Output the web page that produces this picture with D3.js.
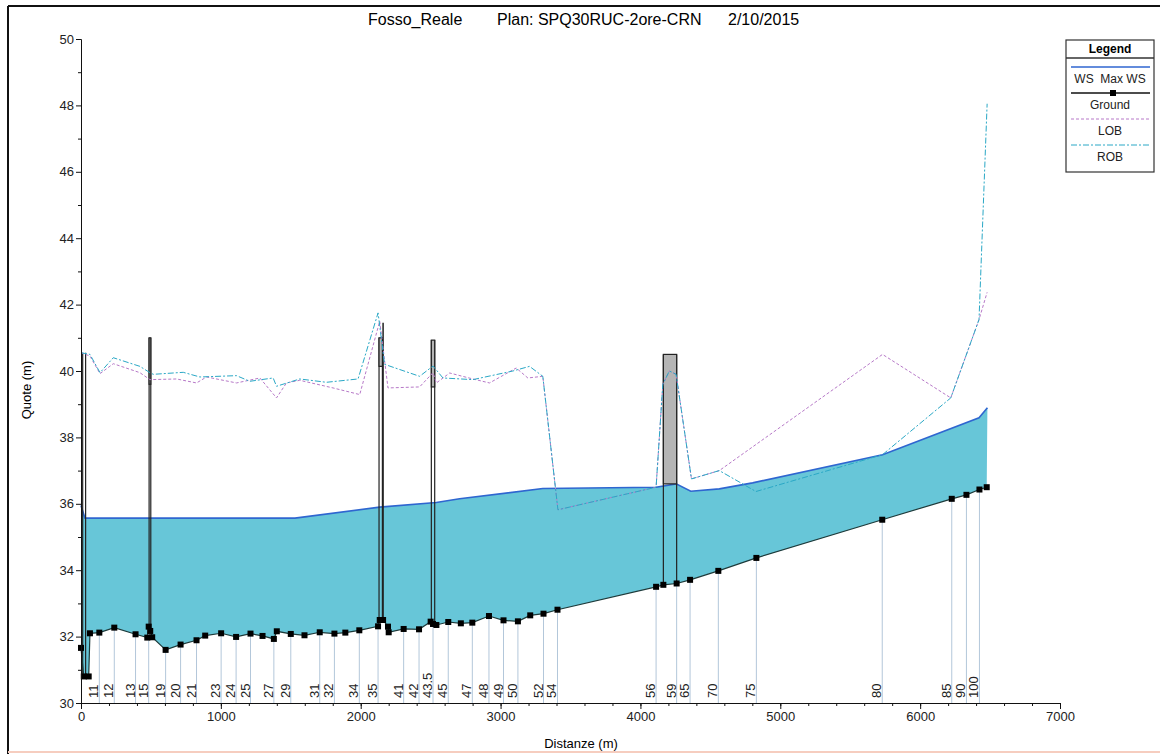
<!DOCTYPE html>
<html>
<head>
<meta charset="utf-8">
<script src="https://cdn.jsdelivr.net/npm/d3@7"></script>
<style>
body { margin: 0; background: #fff; }
</style>
</head>
<body>
<script>
// profile data (distance m, elevation m)
var groundDist = [0, 20, 55, 64, 131, 238, 390, 474, 484, 495, 509, 605, 712, 826, 888, 1002, 1109, 1212, 1298, 1379, 1400, 1500, 1598, 1707, 1812, 1890, 1990, 2124, 2136, 2160, 2195, 2200, 2307, 2417, 2500, 2517, 2541, 2626, 2716, 2798, 2917, 3021, 3124, 3212, 3307, 3407, 4112, 4164, 4259, 4355, 4557, 4829, 5729, 6226, 6331, 6424, 6476];
var groundElev = [31.66, 30.8, 30.8, 32.1, 32.12, 32.27, 32.07, 31.97, 32.3, 32.17, 31.98, 31.6, 31.76, 31.89, 32.03, 32.1, 31.99, 32.09, 32.02, 31.93, 32.16, 32.08, 32.04, 32.13, 32.09, 32.12, 32.19, 32.31, 32.5, 32.5, 32.3, 32.13, 32.23, 32.22, 32.45, 32.38, 32.35, 32.44, 32.4, 32.42, 32.62, 32.49, 32.46, 32.64, 32.69, 32.81, 33.5, 33.56, 33.6, 33.71, 33.98, 34.37, 35.52, 36.15, 36.27, 36.43, 36.5];

var wsDist = [0, 28, 1530, 2136, 2540, 2707, 3302, 4112, 4255, 4360, 4564, 4802, 5731, 6421, 6481];
var wsElev = [35.95, 35.57, 35.57, 35.9, 36.04, 36.15, 36.46, 36.5, 36.6, 36.38, 36.45, 36.63, 37.48, 38.59, 38.89];

var lobDist = [0, 64, 136, 231, 421, 493, 683, 826, 898, 1112, 1279, 1398, 1469, 1564, 1802, 1993, 2136, 2195, 2421, 2517, 2541, 2636, 2802, 2921, 3112, 3195, 3302, 3410, 4112, 4160, 4207, 4255, 4365, 4564, 5731, 6219, 6421, 6479];
var lobElev = [40.55, 40.45, 39.92, 40.22, 39.95, 39.74, 39.76, 39.64, 39.82, 39.64, 39.79, 39.19, 39.64, 39.72, 39.49, 39.29, 41.5, 39.49, 39.52, 39.95, 39.64, 39.94, 39.76, 39.64, 40.09, 39.79, 39.84, 35.82, 36.5, 39.6, 40.0, 39.9, 36.75, 37.0, 40.5, 39.19, 41.55, 42.37];

var robDist = [0, 64, 136, 231, 421, 493, 517, 731, 850, 1112, 1207, 1374, 1398, 1564, 1755, 1981, 2124, 2171, 2421, 2517, 2588, 2802, 3088, 3207, 3302, 3410, 4112, 4160, 4207, 4255, 4365, 4564, 4826, 5731, 6219, 6421, 6479];
var robElev = [40.55, 40.5, 39.95, 40.4, 40.14, 39.95, 39.9, 39.96, 39.82, 39.86, 39.69, 39.79, 39.54, 39.76, 39.66, 39.76, 41.75, 40.2, 39.84, 40.15, 39.79, 39.74, 40.0, 40.14, 39.84, 35.82, 36.5, 39.6, 40.0, 39.9, 36.75, 37.0, 36.37, 37.48, 39.19, 41.55, 48.05];

// river stations
var stationLabels = ["11", "12", "13", "15", "19", "20", "21", "23", "24", "25", "27", "29", "31", "32", "34", "35", "41", "42", "43.5", "45", "47", "48", "49", "50", "52", "54", "56", "59", "65", "70", "75", "80", "85", "90", "100"];
var stationDist = [131, 238, 390, 484, 605, 712, 826, 1002, 1109, 1212, 1379, 1500, 1707, 1812, 1990, 2124, 2307, 2417, 2517, 2626, 2798, 2917, 3021, 3124, 3307, 3407, 4112, 4259, 4355, 4557, 4829, 5729, 6226, 6331, 6424];
var stationElev = [32.12, 32.27, 32.07, 32.3, 31.6, 31.76, 31.89, 32.1, 31.99, 32.09, 31.93, 32.08, 32.13, 32.09, 32.19, 32.31, 32.23, 32.22, 32.38, 32.44, 32.42, 32.62, 32.49, 32.46, 32.69, 32.81, 33.5, 33.6, 33.71, 33.98, 34.37, 35.52, 36.15, 36.27, 36.43];

// bridges / culvert
var structLeft = [12, 487, 2131, 2505, 4164];
var structRight = [33, 499, 2155, 2529, 4259];
var structHigh = [40.55, 41.0, 41.0, 40.93, 40.5];
var structLow = [40.55, 39.6, 40.14, 39.52, 36.6];
var structBed = [30.8, 32.2, 32.5, 32.4, 33.58];
var pierDist = [2160];
var pierTop = [41.45];
var pierBed = [32.5];

var xTicks = [0, 1000, 2000, 3000, 4000, 5000, 6000, 7000];
var yTicks = [30, 32, 34, 36, 38, 40, 42, 44, 46, 48, 50];

var legendItems = ["WS  Max WS", "Ground", "LOB", "ROB"];

var width = 1160, height = 754;
var svg = d3.select("body").append("svg")
    .attr("width", width)
    .attr("height", height)
    .style("font-family", "Arial, 'Liberation Sans', sans-serif")

var x = d3.scaleLinear().domain([0, 7000]).range([81, 1060]);
var y = d3.scaleLinear().domain([30, 50]).range([703, 39]);

var pts = function(xs, ys) { return xs.map(function(d, i) { return [d, ys[i]] }) };
var line = d3.line().x(function(d) { return x(d[0]) }).y(function(d) { return y(d[1]) });

var ground = pts(groundDist, groundElev);
var ws = pts(wsDist, wsElev);

// frame
svg.append("line").attr("x1", 8).attr("x2", 1160).attr("y1", 6).attr("y2", 6).style("stroke", "#111").style("stroke-width", 2)
svg.append("line").attr("x1", 8).attr("x2", 8).attr("y1", 6).attr("y2", 754).style("stroke", "#111").style("stroke-width", 2)
svg.append("line").attr("x1", 8).attr("x2", 1160).attr("y1", 752).attr("y2", 752).style("stroke", "#f6cdbf").style("stroke-width", 2)

// water between WS and ground
svg.append("path")
    .attr("d", line(ws.concat(ground.slice().reverse())) + "Z")
    .style("fill", "#67c6d8")
    .style("stroke", "none")

svg.append("path")
    .attr("d", line(ws))
    .style("fill", "none")
    .style("stroke", "#2f66d0")
    .style("stroke-width", 1.6)

// station lines
svg.selectAll("stationLines")
    .data(stationDist)
    .enter()
    .append("line")
    .attr("x1", function(d) { return x(d) })
    .attr("x2", function(d) { return x(d) })
    .attr("y1", function(d, i) { return y(stationElev[i]) })
    .attr("y2", y(30))
    .style("stroke", "#b3c7da")
    .style("stroke-width", 1)

// structures
svg.selectAll("structSides")
    .data(structLeft.concat(structRight))
    .enter()
    .append("line")
    .attr("x1", function(d) { return x(d) })
    .attr("x2", function(d) { return x(d) })
    .attr("y1", function(d, i) { return y(structHigh[i % 5]) })
    .attr("y2", function(d, i) { return y(structBed[i % 5]) })
    .style("stroke", "#222")
    .style("stroke-width", 1.2)

svg.selectAll("decks")
    .data(structLeft)
    .enter()
    .append("rect")
    .attr("x", function(d) { return x(d) })
    .attr("y", function(d, i) { return y(structHigh[i]) })
    .attr("width", function(d, i) { return x(structRight[i]) - x(d) })
    .attr("height", function(d, i) { return y(structLow[i]) - y(structHigh[i]) })
    .style("fill", "#b5b5b5")
    .style("stroke", "#222")
    .style("stroke-width", 1.2)

svg.selectAll("piers")
    .data(pierDist)
    .enter()
    .append("line")
    .attr("x1", function(d) { return x(d) })
    .attr("x2", function(d) { return x(d) })
    .attr("y1", function(d, i) { return y(pierTop[i]) })
    .attr("y2", function(d, i) { return y(pierBed[i]) })
    .style("stroke", "#222")
    .style("stroke-width", 1.5)

// ground
svg.append("path")
    .attr("d", line(ground))
    .style("fill", "none")
    .style("stroke", "#1d3a3a")
    .style("stroke-width", 1.2)

svg.selectAll("groundDots")
    .data(ground)
    .enter()
    .append("rect")
    .attr("x", function(d) { return x(d[0]) - 3 })
    .attr("y", function(d) { return y(d[1]) - 3 })
    .attr("width", 6)
    .attr("height", 6)
    .style("fill", "#000")

// banks
svg.append("path")
    .attr("d", line(pts(lobDist, lobElev)))
    .style("fill", "none")
    .style("stroke", "#b779c8")
    .style("stroke-width", 1)
    .style("stroke-dasharray", "3,2")

svg.append("path")
    .attr("d", line(pts(robDist, robElev)))
    .style("fill", "none")
    .style("stroke", "#2aa8c6")
    .style("stroke-width", 1)
    .style("stroke-dasharray", "6,2,2,2")

// station labels
svg.selectAll("stationText")
    .data(stationLabels)
    .enter()
    .append("text")
    .attr("transform", function(d, i) { return "translate(" + (x(stationDist[i]) - 1) + ",698) rotate(-90)" })
    .text(function(d) { return d })
    .style("font-size", "13px")
    .style("fill", "#222")

// axes
var xAxis = svg.append("g")
    .attr("transform", "translate(0," + y(30) + ")")
    .call(d3.axisBottom(x).tickValues(xTicks).tickSize(6).tickSizeOuter(0).tickFormat(d3.format("d")))
svg.append("g")
    .attr("transform", "translate(0," + y(30) + ")")
    .call(d3.axisBottom(x).tickValues(d3.range(200, 7000, 200)).tickSize(3).tickSizeOuter(0).tickFormat(""))

var yAxis = svg.append("g")
    .attr("transform", "translate(" + x(0) + ",0)")
    .call(d3.axisLeft(y).tickValues(yTicks).tickSize(5).tickPadding(2).tickSizeOuter(0))
svg.append("g")
    .attr("transform", "translate(" + x(0) + ",0)")
    .call(d3.axisLeft(y).tickValues(d3.range(31, 50, 2)).tickSize(3).tickSizeOuter(0).tickFormat(""))

svg.selectAll(".tick text").style("font-size", "13px").style("fill", "#222").style("font-family", "Arial, 'Liberation Sans', sans-serif")
svg.selectAll(".domain, .tick line").style("stroke", "#111")

// titles
svg.append("text").attr("x", 368).attr("y", 25).text("Fosso_Reale").style("font-size", "16px")
svg.append("text").attr("x", 497).attr("y", 25).text("Plan: SPQ30RUC-2ore-CRN").style("font-size", "16px")
svg.append("text").attr("x", 728).attr("y", 25).text("2/10/2015").style("font-size", "16px")

svg.append("text")
    .attr("transform", "translate(31,390) rotate(-90)")
    .attr("text-anchor", "middle")
    .text("Quote (m)")
    .style("font-size", "13px")
svg.append("text")
    .attr("x", 581)
    .attr("y", 748)
    .attr("text-anchor", "middle")
    .text("Distanze (m)")
    .style("font-size", "13px")

// legend
var legend = svg.append("g")
legend.append("rect")
    .attr("x", 1066).attr("y", 40).attr("width", 88).attr("height", 132)
    .style("fill", "#fff").style("stroke", "#333").style("stroke-width", 1.2)
legend.append("line").attr("x1", 1066).attr("x2", 1154).attr("y1", 58).attr("y2", 58).style("stroke", "#333").style("stroke-width", 1.5)
legend.append("text").attr("x", 1110).attr("y", 53).attr("text-anchor", "middle").text("Legend")
    .style("font-size", "12px").style("font-weight", "bold")

var legendColor = ["#2f66d0", "#111", "#b779c8", "#2aa8c6"];
var legendDash = ["none", "none", "3,2", "6,2,2,2"];

legend.selectAll("legendLines")
    .data(legendItems)
    .enter()
    .append("line")
    .attr("x1", 1071).attr("x2", 1150)
    .attr("y1", function(d, i) { return 67 + i * 26 })
    .attr("y2", function(d, i) { return 67 + i * 26 })
    .style("stroke", function(d, i) { return legendColor[i] })
    .style("stroke-width", function(d, i) { return i < 2 ? 1.4 : 1 })
    .style("stroke-dasharray", function(d, i) { return legendDash[i] })

legend.append("rect").attr("x", 1110).attr("y", 90).attr("width", 6).attr("height", 6).style("fill", "#000")

legend.selectAll("legendText")
    .data(legendItems)
    .enter()
    .append("text")
    .attr("x", 1110)
    .attr("y", function(d, i) { return 83 + i * 26 })
    .attr("text-anchor", "middle")
    .style("white-space", "pre")
    .text(function(d) { return d })
    .style("font-size", "12px")
    .style("fill", "#222")
</script>
</body>
</html>
